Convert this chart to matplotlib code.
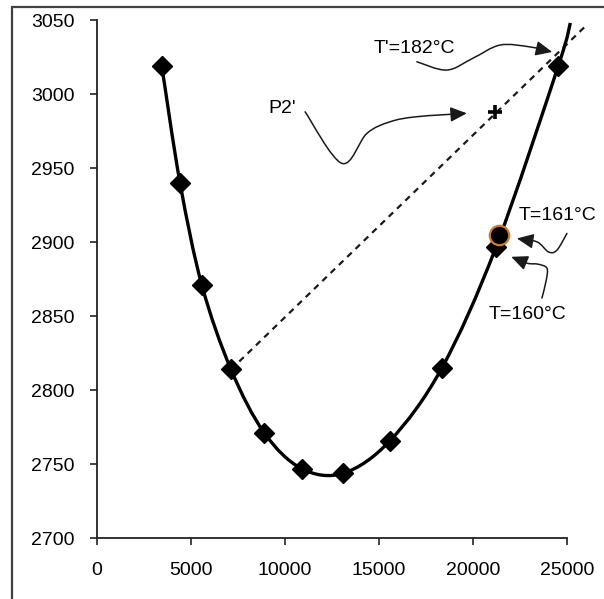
import numpy as np
import matplotlib
matplotlib.use('Agg')
import matplotlib.pyplot as plt
from matplotlib.path import Path
from matplotlib.patches import FancyArrowPatch, PathPatch, Rectangle

# ---------------- data ----------------
flow = [3470, 4440, 5600, 7150, 8930, 10920, 13130, 15610, 18360, 21250, 24550]
cost = [3019, 2940, 2871, 2814, 2771, 2747, 2744, 2766, 2815, 2897, 3019]
curve_end_x = [25190]
curve_end_y = [3048]

chord_x = [7150, 26090]
chord_y = [2814, 3047]

p2_x = [21200]
p2_y = [2988]

t161_x = [21410]
t161_y = [2905]

xticks = [0, 5000, 10000, 15000, 20000, 25000]
yticks = [2700, 2750, 2800, 2850, 2900, 2950, 3000, 3050]

# annotation labels and wavy pointer arrows (data coords)
labels = ["T'=182°C", "P2'", "T=161°C", "T=160°C"]
label_x = [14707, 9122, 22420, 20824]
label_y = [3031, 2990, 2918, 2851]

arrow1_x = [17032, 18628, 20027, 21463, 23059, 24229]
arrow1_y = [3021.8, 3016.2, 3024.3, 3033.1, 3031.8, 3028.4]
arrow2_x = [11090, 13043, 14372, 15612, 17032, 19691]
arrow2_y = [2988.0, 2953.2, 2973.4, 2981.3, 2984.7, 2987.0]
arrow3_x = [25011, 24479, 24032, 23415, 22351]
arrow3_y = [2905.9, 2894.6, 2893.4, 2900.2, 2902.5]
arrow4_x = [23681, 23910, 23947, 23484, 22883, 22048]
arrow4_y = [2862.2, 2874.3, 2882.4, 2885.1, 2885.8, 2890.1]


def smooth_path(xs, ys, k=1.0 / 6.0):
    pts = np.column_stack([xs, ys]).astype(float)
    n = len(pts)
    verts = [pts[0]]
    codes = [Path.MOVETO]
    for i in range(n - 1):
        p0 = pts[i - 1] if i > 0 else pts[i]
        p1 = pts[i]
        p2 = pts[i + 1]
        p3 = pts[i + 2] if i + 2 < n else pts[i + 1]
        c1 = p1 + (p2 - p0) * k
        c2 = p2 - (p3 - p1) * k
        verts += [c1, c2, p2]
        codes += [Path.CURVE4] * 3
    return Path(np.array(verts), codes)


plt.rcParams['font.family'] = ['Liberation Sans', 'DejaVu Sans']

fig = plt.figure(figsize=(6.04, 5.99), dpi=100)
ax = fig.add_axes([0.1598, 0.1013, 0.7785, 0.8653])

# outer frame (only left and top edges visible)
fig.patches.append(Rectangle((12 / 604, -0.2), 1.5, 0.2 + 1 - 7 / 599,
                             transform=fig.transFigure, fill=False,
                             edgecolor='#404040', lw=1.6, clip_on=False))

# chord (dashed)
ax.plot(chord_x, chord_y, linestyle=(0, (2.8, 2.4)), color='#1a1a1a', lw=1.6,
        clip_on=False, zorder=2)

# smooth curve
curve = smooth_path(flow + curve_end_x, cost + curve_end_y)
ax.add_patch(PathPatch(curve, fill=False, edgecolor='black', lw=2.4,
                       clip_on=False, zorder=3))

# markers
ax.plot(flow, cost, linestyle='none', marker='D', markersize=10.5,
        color='black', clip_on=False, zorder=4)
ax.plot(t161_x, t161_y, linestyle='none', marker='o', markersize=14,
        markerfacecolor='black', markeredgecolor='#d07a30', markeredgewidth=1.6,
        clip_on=False, zorder=5)
ax.plot(p2_x, p2_y, linestyle='none', marker='+', markersize=10,
        markeredgewidth=2.6, color='black', zorder=5)

# annotation arrows
for axs, ays in [(arrow1_x, arrow1_y), (arrow2_x, arrow2_y),
                 (arrow3_x, arrow3_y), (arrow4_x, arrow4_y)]:
    arr = FancyArrowPatch(path=smooth_path(axs, ays),
                          arrowstyle='-|>,head_length=1.0,head_width=0.45',
                          mutation_scale=10, lw=1.1, color='#1a1a1a',
                          clip_on=False, zorder=6)
    ax.add_patch(arr)

for t, lx, ly in zip(labels, label_x, label_y):
    ax.text(lx, ly, t, fontsize=14, ha='left', va='center', color='black')

ax.set_xlim(0, 25000)
ax.set_ylim(2700, 3050)
ax.set_xticks(xticks)
ax.set_yticks(yticks)
ax.set_xticklabels([str(v) for v in xticks])
ax.set_yticklabels([str(v) for v in yticks])
for s in ['top', 'right']:
    ax.spines[s].set_visible(False)
for s in ['left', 'bottom']:
    ax.spines[s].set_color('#222222')
    ax.spines[s].set_linewidth(1.3)
ax.tick_params(axis='both', direction='out', length=5, width=1.2,
               color='#222222', labelsize=14)
ax.tick_params(axis='y', pad=11)
ax.tick_params(axis='x', pad=12)

fig.savefig('out.png', dpi=100)
